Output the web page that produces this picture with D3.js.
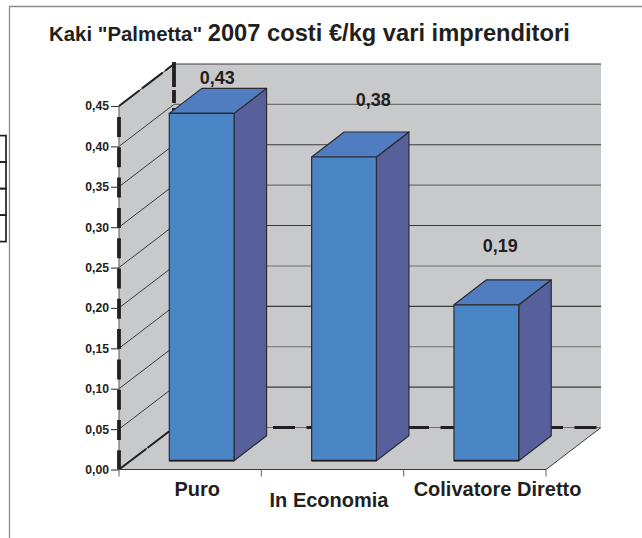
<!DOCTYPE html>
<html>
<head>
<meta charset="utf-8">
<script src="https://cdnjs.cloudflare.com/ajax/libs/d3/7.8.5/d3.min.js"></script>
<style>
	html, body {margin: 0; padding: 0; background: #fff;}
	svg {display: block;}
	text {font-family: "Liberation Sans", Arial, sans-serif; font-weight: bold; fill: #231f20;}
</style>
</head>
<body>
<svg id="chart" width="642" height="538"></svg>
<script>
var categories = ["Puro", "In Economia", "Colivatore Diretto"];
var costs = [0.43, 0.376, 0.193];
var y_ticks = [0, 0.05, 0.10, 0.15, 0.20, 0.25, 0.30, 0.35, 0.40, 0.45];
var box_rows = [0, 1, 2, 3];

var svg = d3.select("#chart");

var comma = d3.formatLocale({decimal: ",", thousands: ".", grouping: [3], currency: ["€", ""]}).format(".2f");

// plot box, front edge of the floor
var y = d3.scaleLinear().domain([0, 0.45]).range([469.5, 106]);
var x = d3.scaleBand().domain(categories).range([119, 546]);
// shift of the back wall
var wall_dx = 55, wall_dy = -42;
// bars stand a bit behind the front edge and are less deep than the floor
var bar_w = x.bandwidth() * 0.455;
var bar_dx = 32.5, bar_dy = -25;
var bar_inset = 8.8;

var wall_fill = "#c8c9cb", line_dark = "#3a3a3c", line_gray = "#6d6e71", ink = "#231f20";

function points(list){
	return list.map(function(p){ return p.join(","); }).join(" ");
}

// cut off table on the left, next to the frame
svg.selectAll(".box_row").data(box_rows).enter().append("rect")
	.attr("class", "box_row")
	.attr("x", -5)
	.attr("y", function(d){ return 135.6 + d * 26.5; })
	.attr("width", 11)
	.attr("height", 26.5)
	.attr("fill", "none")
	.attr("stroke", ink)
	.attr("stroke-width", 1.7);

// outer frame, runs off the page
svg.append("path")
	.attr("d", "M9.5,540V6.5H644")
	.attr("fill", "none")
	.attr("stroke", "#8a8a8c")
	.attr("stroke-width", 1.3);

// title
var title = svg.append("text").attr("x", 49).attr("y", 40.7);
title.append("tspan").attr("font-size", 20.4).text('Kaki "Palmetta" ');
title.append("tspan").attr("font-size", 23.7).text("2007 costi €/kg vari imprenditori");

var x0 = x.range()[0], x1 = x.range()[1];
var y0 = y(0), y45 = y(0.45);

// walls and floor
svg.append("polygon")
	.attr("points", points([[x0 + wall_dx, y45 + wall_dy], [x1 + wall_dx, y45 + wall_dy], [x1 + wall_dx, y0 + wall_dy], [x0 + wall_dx, y0 + wall_dy]]))
	.attr("fill", wall_fill);
svg.append("polygon")
	.attr("points", points([[x0, y45], [x0 + wall_dx, y45 + wall_dy], [x0 + wall_dx, y0 + wall_dy], [x0, y0]]))
	.attr("fill", wall_fill);
svg.append("polygon")
	.attr("points", points([[x0, y0], [x1, y0], [x1 + wall_dx, y0 + wall_dy], [x0 + wall_dx, y0 + wall_dy]]))
	.attr("fill", wall_fill);
svg.append("line") // right edge of the floor
	.attr("x1", x1).attr("y1", y0)
	.attr("x2", x1 + wall_dx).attr("y2", y0 + wall_dy)
	.attr("stroke", line_dark).attr("stroke-width", 1);

// grid lines on the walls
y_ticks.forEach(function(t, i){
	var yy = y(t);
	svg.append("line")
		.attr("x1", x0).attr("y1", yy)
		.attr("x2", x0 + wall_dx).attr("y2", yy + wall_dy)
		.attr("stroke", line_dark).attr("stroke-width", 1);
	svg.append("line")
		.attr("x1", x0 + wall_dx).attr("y1", yy + wall_dy)
		.attr("x2", x1 + wall_dx).attr("y2", yy + wall_dy)
		.attr("stroke", i % 2 ? line_dark : line_gray).attr("stroke-width", 1.1);
});

// heavy dashes left over in the source
function heavy(x_a, y_a, x_b, y_b, dash, width, offset){
	svg.append("line")
		.attr("x1", x_a).attr("y1", y_a)
		.attr("x2", x_b).attr("y2", y_b)
		.attr("stroke", ink)
		.attr("stroke-width", width)
		.attr("stroke-dasharray", dash)
		.attr("stroke-dashoffset", offset || 0);
}
heavy(x0 + wall_dx, y0 + wall_dy, x1 + wall_dx, y0 + wall_dy, "22 11.5", 3, 1.5);
heavy(x0 + wall_dx, y45 + wall_dy - 2, x0 + wall_dx, 111, "25 3 13 5", 3.8);
heavy(x0, y45, x0 + wall_dx, y45 + wall_dy, "26 3", 2);
heavy(x0, y0, x0 + wall_dx - 5, y0 + wall_dy + 4, "34 2", 2);

// left axis and bottom axis
svg.append("line")
	.attr("x1", x0).attr("y1", y45).attr("x2", x0).attr("y2", y0)
	.attr("stroke", line_gray).attr("stroke-width", 1.2);
heavy(x0, 117, x0, y0, "20 10.3", 3.8);

svg.append("g")
	.attr("transform", "translate(" + x0 + ",0)")
	.call(d3.axisLeft(y).tickValues(y_ticks).tickSize(8).tickPadding(2).tickFormat(comma))
	.call(function(g){
		g.select(".domain").remove();
		g.selectAll("line").attr("stroke", line_dark).attr("stroke-width", 1.1);
		g.selectAll("text").attr("font-size", 12.2).attr("fill", ink);
	});

var x_edges = categories.map(function(c){ return x(c); }).concat([x1]);
svg.append("line")
	.attr("x1", x0).attr("y1", y0).attr("x2", x1).attr("y2", y0)
	.attr("stroke", line_dark).attr("stroke-width", 1.1);
svg.selectAll(".x_tick").data(x_edges).enter().append("line")
	.attr("class", "x_tick")
	.attr("x1", function(d){ return d; }).attr("y1", y0)
	.attr("x2", function(d){ return d; }).attr("y2", y0 + 7)
	.attr("stroke", line_gray).attr("stroke-width", 1.1);

// bars
var bars = svg.selectAll(".bar").data(categories).enter().append("g").attr("class", "bar");

function bar_left(c){ return x(c) + (x.bandwidth() - bar_w) / 2 + bar_inset * wall_dx / -wall_dy; }
function bar_top(i){ return y(costs[i]) - bar_inset; }
var bar_base = y0 - bar_inset;

bars.append("polygon") // side
	.attr("points", function(c, i){
		var r = bar_left(c) + bar_w;
		return points([[r, bar_top(i)], [r + bar_dx, bar_top(i) + bar_dy], [r + bar_dx, bar_base + bar_dy], [r, bar_base]]);
	})
	.attr("fill", "#58609b");
bars.append("polygon") // top
	.attr("points", function(c, i){
		var l = bar_left(c), r = l + bar_w, t = bar_top(i);
		return points([[l, t], [r, t], [r + bar_dx, t + bar_dy], [l + bar_dx, t + bar_dy]]);
	})
	.attr("fill", "#4f7dbf");
bars.append("rect") // front
	.attr("x", bar_left)
	.attr("y", function(c, i){ return bar_top(i); })
	.attr("width", bar_w)
	.attr("height", function(c, i){ return bar_base - bar_top(i); })
	.attr("fill", "#4a86c5");
bars.selectAll("polygon, rect")
	.attr("stroke", "#2b2b30")
	.attr("stroke-width", 1.2)
	.attr("stroke-linejoin", "round");
bars.append("line") // heavier bottom edge
	.attr("x1", bar_left)
	.attr("x2", function(c){ return bar_left(c) + bar_w; })
	.attr("y1", bar_base).attr("y2", bar_base)
	.attr("stroke", ink).attr("stroke-width", 1.8);

// value labels, they sit where the source left them
var label_shift = [[27.1, -37.9], [40.8, -60], [25.5, -61.3]];
svg.selectAll(".value").data(costs).enter().append("text")
	.attr("class", "value")
	.attr("text-anchor", "middle")
	.attr("font-size", 18)
	.attr("x", function(d, i){ return x(categories[i]) + x.bandwidth() / 2 + label_shift[i][0]; })
	.attr("y", function(d, i){ return y(d) + label_shift[i][1]; })
	.text(function(d){ return comma(d); });

// category labels, the middle one is staggered down
var cat_shift = [[7, 0], [-3.5, 11], [22.7, 0]];
svg.selectAll(".cat").data(categories).enter().append("text")
	.attr("class", "cat")
	.attr("text-anchor", "middle")
	.attr("font-size", 20)
	.attr("x", function(c, i){ return x(c) + x.bandwidth() / 2 + cat_shift[i][0]; })
	.attr("y", function(c, i){ return 496 + cat_shift[i][1]; })
	.text(function(c){ return c; });
</script>
</body>
</html>
